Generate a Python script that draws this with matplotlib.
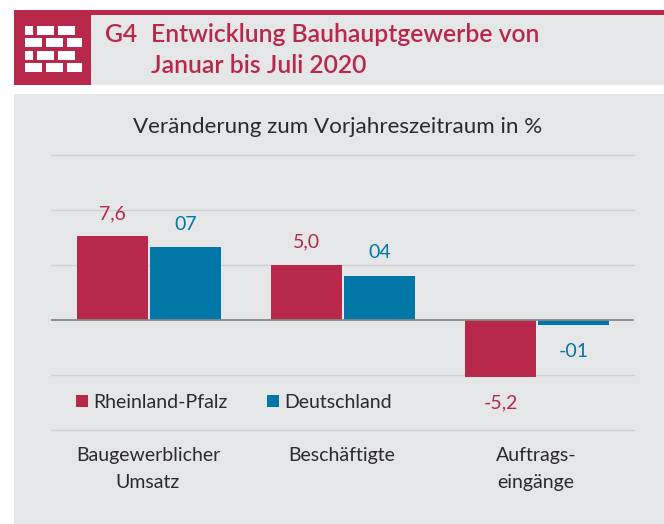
import numpy as np
from matplotlib import pyplot as plt
from matplotlib.patches import Rectangle

plt.rcParams['font.family'] = ['Lato', 'DejaVu Sans']

W, H = 664, 524

# Daten
categories = ['Baugewerblicher\nUmsatz', 'Beschäftigte', 'Auftrags-\neingänge']
rlp_values = [7.6, 5.0, -5.2]
de_values = [6.6, 4.0, -0.5]
rlp_labels = ['7,6', '5,0', '-5,2']
de_labels = ['07', '04', '-01']
y_ticks = [-10, -5, 0, 5, 10, 15]

RED = '#b7284b'
BLUE = '#0077a6'
PANEL = '#e5e6e8'
GRID = '#cfd0d2'
TEXT = '#2b2a2c'

fig = plt.figure(figsize=(W / 100, H / 100), dpi=100, facecolor='white')


def px_rect(x, y, w, h, color, z=-5):
    # Rechteck in Pixeln, y von oben gemessen
    fig.add_artist(Rectangle((x / W, 1 - (y + h) / H), w / W, h / H, transform=fig.transFigure,
                             facecolor=color, edgecolor='none', zorder=z))


def px_text(x, y, s, **kwargs):
    fig.text(x / W, 1 - y / H, s, **kwargs)


# Kopfzeile
px_rect(14, 10, 650, 75, PANEL)
px_rect(14, 10, 650, 5, RED, z=-4)
px_rect(14, 10, 77, 75, RED, z=-4)

# Ziegel-Symbol
for row, y in enumerate([26, 38, 51, 63]):
    if row % 2 == 0:
        bricks = [(25, 8), (37, 17), (58, 17)]
    else:
        bricks = [(25, 17), (46, 17), (67, 15)]
    for x, w in bricks:
        px_rect(x, y, w, 9, 'white', z=-3)

px_text(105, 34, 'G4', color=RED, fontsize=17.8, fontweight='semibold', va='center')
px_text(151, 34, 'Entwicklung Bauhauptgewerbe von', color=RED, fontsize=17.8, fontweight='semibold', va='center')
px_text(151, 66, 'Januar bis Juli 2020', color=RED, fontsize=17.8, fontweight='semibold', va='center')

# Diagrammfläche
px_rect(14, 94, 650, 430, PANEL)
px_text(337.5, 127, 'Veränderung zum Vorjahreszeitraum in %', color=TEXT, fontsize=16.1, ha='center', va='center')

ax = fig.add_axes([51 / W, 1 - 429.5 / H, 583 / W, 275 / H])
ax.patch.set_alpha(0)
x = np.arange(len(categories))
width = 0.366
offset = 0.188

for t in y_ticks:
    if t != 0:
        ax.axhline(t, color=GRID, lw=1, zorder=1, clip_on=False)

ax.bar(x - offset, rlp_values, width, color=RED, zorder=2)
ax.bar(x + offset, de_values, width, color=BLUE, zorder=2)
ax.axhline(0, color='#87888a', lw=1.3, zorder=3)

ax.set_xlim(-0.505, 2.5)
ax.set_ylim(-10, 15)
ax.axis('off')

for i in x:
    for pos, val, lab, col in [(i - offset, rlp_values[i], rlp_labels[i], RED),
                               (i + offset, de_values[i], de_labels[i], BLUE)]:
        if val >= 0:
            ax.annotate(lab, (pos, val), xytext=(0, 14), textcoords='offset pixels', color=col,
                        fontsize=14, ha='center', va='bottom')
        else:
            ax.annotate(lab, (pos, val), xytext=(0, -18), textcoords='offset pixels', color=col,
                        fontsize=14, ha='center', va='top')
    ax.annotate(categories[i], (i, -10), xytext=(-1, -18), textcoords='offset pixels', color=TEXT,
                fontsize=14, ha='center', va='top', linespacing=1.65, annotation_clip=False)

# Legende
px_rect(76, 395, 12, 12, RED, z=-3)
px_text(93, 402, 'Rheinland-Pfalz', color=TEXT, fontsize=14, va='center')
px_rect(267, 395, 12, 12, BLUE, z=-3)
px_text(284, 402, 'Deutschland', color=TEXT, fontsize=14, va='center')

fig.savefig('out.png', dpi=100)
